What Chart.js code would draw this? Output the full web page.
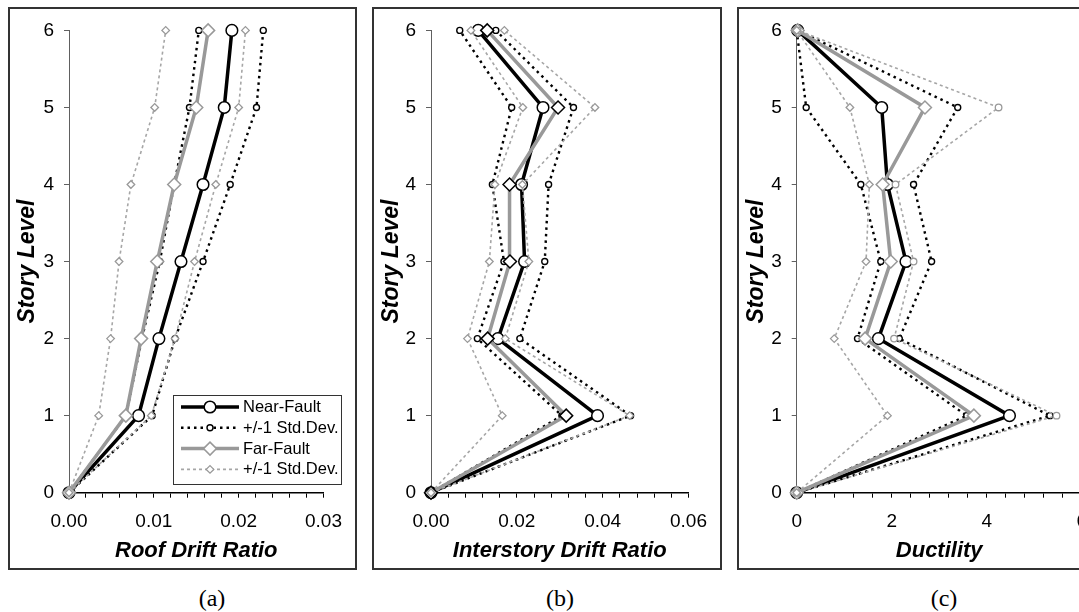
<!DOCTYPE html>
<html>
<head>
<meta charset="utf-8">
<script src="https://cdn.jsdelivr.net/npm/chart.js@4/dist/chart.umd.min.js"></script>
<style>
  body { margin: 0; width: 1079px; height: 612px; overflow: hidden; background: #fff; position: relative; }
  .frame { position: absolute; box-sizing: border-box; border: 2px solid #333; }
  canvas { position: absolute; }
  .cap { position: absolute; top: 584px; width: 60px; text-align: center; line-height: 28px;
         font-family: "Liberation Serif", "Times New Roman", serif; font-size: 24px; color: #000; }
</style>
</head>
<body>
<div class="frame" style="left:8px;top:7px;width:349px;height:563px"></div>
<div class="frame" style="left:372px;top:7px;width:350px;height:563px"></div>
<div class="frame" style="left:737px;top:7px;width:370px;height:563px"></div>

<canvas id="roofChart"></canvas>
<canvas id="idrChart"></canvas>
<canvas id="ductChart"></canvas>

<div class="cap" style="left:182px">(a)</div>
<div class="cap" style="left:530px">(b)</div>
<div class="cap" style="left:914px">(c)</div>

<script>
const storyLevels = [0, 1, 2, 3, 4, 5, 6];

// (a) roof drift ratio
const roofNearMean  = [0, 0.0082, 0.0106, 0.0132, 0.0158, 0.0183, 0.0192];
const roofNearPlus  = [0, 0.0098, 0.0125, 0.0158, 0.0190, 0.0221, 0.0229];
const roofNearMinus = [0, 0.0067, 0.0086, 0.0107, 0.0124, 0.0142, 0.0153];
const roofFarMean   = [0, 0.0067, 0.0085, 0.0104, 0.0124, 0.0150, 0.0164];
const roofFarPlus   = [0, 0.0097, 0.0125, 0.0148, 0.0173, 0.0200, 0.0208];
const roofFarMinus  = [0, 0.0035, 0.0049, 0.0059, 0.0073, 0.0101, 0.0114];
const roofTicks  = [0, 0.01, 0.02, 0.03];
const roofLabels = ['0.00', '0.01', '0.02', '0.03'];

// (b) interstory drift ratio
const idrNearMean  = [0, 0.0388, 0.0156, 0.0218, 0.0211, 0.0261, 0.0110];
const idrNearPlus  = [0, 0.0465, 0.0207, 0.0265, 0.0274, 0.0332, 0.0151];
const idrNearMinus = [0, 0.0305, 0.0108, 0.0170, 0.0143, 0.0188, 0.0067];
const idrFarMean   = [0, 0.0315, 0.0132, 0.0184, 0.0183, 0.0296, 0.0131];
const idrFarPlus   = [0, 0.0463, 0.0173, 0.0228, 0.0213, 0.0382, 0.0171];
const idrFarMinus  = [0, 0.0166, 0.0085, 0.0136, 0.0149, 0.0214, 0.0093];
const idrTicks  = [0, 0.02, 0.04, 0.06];
const idrLabels = ['0.00', '0.02', '0.04', '0.06'];

// (c) ductility
const ductNearMean  = [0, 4.48, 1.72, 2.30, 1.91, 1.79, 0.02];
const ductNearPlus  = [0, 5.33, 2.16, 2.84, 2.46, 3.39, 0.02];
const ductNearMinus = [0, 3.58, 1.28, 1.77, 1.35, 0.20, 0.00];
const ductFarMean   = [0, 3.73, 1.44, 1.98, 1.81, 2.70, 0.02];
const ductFarPlus   = [0, 5.47, 2.05, 2.46, 2.08, 4.25, 0.02];
const ductFarMinus  = [0, 1.91, 0.79, 1.46, 1.53, 1.12, 0.00];
const ductTicks  = [0, 2, 4, 6];
const ductLabels = ['0', '2', '4', '6'];

const legendLabels = ['Near-Fault', '+/-1 Std.Dev.', 'Far-Fault', '+/-1 Std.Dev.'];

const GRAY = '#999999';
const FONT = 'Liberation Sans';

// line / marker styles
const nearMeanStyle = { borderColor: '#000', borderWidth: 3.5, pointStyle: 'circle', pointRadius: 5.8,
  pointBorderWidth: 1.5, pointBorderColor: '#000', pointBackgroundColor: '#fff' };
const nearSdStyle = { borderColor: '#000', borderWidth: 2.4, borderDash: [2.5, 4], pointStyle: 'circle', pointRadius: 3,
  pointBorderWidth: 1.4, pointBorderColor: '#000', pointBackgroundColor: '#fff' };
const farMeanStyle = { borderColor: GRAY, borderWidth: 3.5, pointStyle: 'rectRot', pointRadius: 6.5,
  pointBorderWidth: 1.5, pointBorderColor: GRAY, pointBackgroundColor: '#fff' };
const farSdStyle = { borderColor: '#a6a6a6', borderWidth: 1.6, borderDash: [3, 3], pointStyle: 'rectRot', pointRadius: 3.8,
  pointBorderWidth: 1.3, pointBorderColor: GRAY, pointBackgroundColor: '#fff' };

function toPoints(values) {
  return values.map((v, i) => ({ x: v, y: storyLevels[i] }));
}

function makeSet(values, style, order, extra) {
  return Object.assign({ data: toPoints(values), showLine: true, clip: false, order: order,
    borderDash: [], fill: false, tension: 0 }, style, extra || {});
}

function drawMarker(ctx, style, x, y) {
  const r = style.pointRadius;
  ctx.save();
  ctx.setLineDash([]);
  ctx.lineWidth = style.pointBorderWidth;
  ctx.strokeStyle = style.pointBorderColor;
  ctx.fillStyle = style.pointBackgroundColor;
  ctx.beginPath();
  if (style.pointStyle === 'circle') {
    ctx.arc(x, y, r, 0, Math.PI * 2);
  } else {
    ctx.moveTo(x - r, y); ctx.lineTo(x, y - r); ctx.lineTo(x + r, y); ctx.lineTo(x, y + r); ctx.closePath();
  }
  ctx.fill();
  ctx.stroke();
  ctx.restore();
}

// legend of panel (a): line sample with a marker in its middle
const faultLegend = {
  id: 'faultLegend',
  afterDraw(chart) {
    const ctx = chart.ctx;
    const styles = [nearMeanStyle, nearSdStyle, farMeanStyle, farSdStyle];
    ctx.save();
    ctx.fillStyle = '#fff';
    ctx.fillRect(163, 386, 168, 89);
    ctx.strokeStyle = '#333';
    ctx.lineWidth = 1;
    ctx.strokeRect(163.5, 386.5, 168, 89);
    legendLabels.forEach((text, i) => {
      const s = styles[i];
      const y = 398 + i * 20.8;
      ctx.beginPath();
      ctx.strokeStyle = s.borderColor;
      ctx.lineWidth = s.borderWidth;
      ctx.setLineDash(s.borderDash || []);
      ctx.moveTo(171, y);
      ctx.lineTo(229, y);
      ctx.stroke();
      drawMarker(ctx, s, 200, y);
      ctx.setLineDash([]);
      ctx.fillStyle = '#000';
      ctx.font = '16.5px "' + FONT + '"';
      ctx.textBaseline = 'middle';
      ctx.textAlign = 'left';
      ctx.fillText(text, 233, y + 0.5);
    });
    ctx.restore();
  }
};

// box = canvas rectangle on the page, area = wanted plot area on the page
function buildPanel(id, box, area, sets, xMax, xStep, tickVals, tickTexts, xTitle, plugins) {
  const canvas = document.getElementById(id);
  canvas.width = box.w;
  canvas.height = box.h;
  canvas.style.left = box.x + 'px';
  canvas.style.top = box.y + 'px';
  canvas.style.width = box.w + 'px';
  canvas.style.height = box.h + 'px';

  const tickFont = { family: FONT, size: 19 };
  const titleFont = { family: FONT, size: 22, weight: 'bold', style: 'italic' };

  return new Chart(canvas.getContext('2d'), {
    type: 'scatter',
    data: { datasets: sets },
    plugins: plugins || [],
    options: {
      responsive: false,
      animation: false,
      events: [],
      layout: { padding: { left: 0, bottom: 0, top: area.top - box.y, right: box.x + box.w - area.right } },
      plugins: { legend: { display: false }, tooltip: { enabled: false } },
      scales: {
        x: {
          type: 'linear', min: 0, max: xMax,
          afterFit: s => { s.height = box.y + box.h - area.bottom; },
          ticks: {
            stepSize: xStep, autoSkip: false, maxRotation: 0, color: '#000', font: tickFont, padding: 13,
            callback: v => {
              const k = tickVals.findIndex(t => Math.abs(t - v) < xStep / 10);
              return k >= 0 ? tickTexts[k] : '';
            }
          },
          grid: { drawOnChartArea: false, drawTicks: true, tickLength: 5, color: '#000', lineWidth: 1 },
          border: { display: true, color: '#000', width: 1.5 },
          title: { display: true, text: xTitle, color: '#000', font: titleFont, padding: { top: 0, bottom: 4 } }
        },
        y: {
          type: 'linear', min: 0, max: 6,
          afterFit: s => { s.width = area.left - box.x; },
          ticks: { stepSize: 1, color: '#000', font: tickFont, padding: 10 },
          grid: { drawOnChartArea: false, drawTicks: true, tickLength: 5, color: '#606060', lineWidth: 1 },
          border: { display: true, color: '#606060', width: 1 },
          title: { display: true, text: 'Story Level', color: '#000',
            font: { family: FONT, size: 23, weight: 'bold', style: 'italic' }, padding: { top: 4, bottom: 0 } }
        }
      }
    }
  });
}

// (a)
buildPanel('roofChart', { x: 10, y: 9, w: 345, h: 559 }, { left: 69, right: 335.7, top: 23.3, bottom: 492.7 }, [
  makeSet(roofNearMean, nearMeanStyle, 6),
  makeSet(roofNearPlus, nearSdStyle, 5),
  makeSet(roofNearMinus, nearSdStyle, 4),
  makeSet(roofFarMean, farMeanStyle, 3),
  makeSet(roofFarPlus, farSdStyle, 2),
  makeSet(roofFarMinus, farSdStyle, 1)
], 0.03, 0.002, roofTicks, roofLabels, 'Roof Drift Ratio', [faultLegend]);

// (b) far-fault mean markers have black borders here
buildPanel('idrChart', { x: 374, y: 9, w: 346, h: 559 }, { left: 431, right: 699, top: 23.3, bottom: 492.7 }, [
  makeSet(idrNearMean, nearMeanStyle, 6),
  makeSet(idrNearPlus, nearSdStyle, 5),
  makeSet(idrNearMinus, nearSdStyle, 4),
  makeSet(idrFarMean, farMeanStyle, 3, { pointBorderColor: '#000' }),
  makeSet(idrFarPlus, farSdStyle, 2),
  makeSet(idrFarMinus, farSdStyle, 1)
], 0.06, 0.004, idrTicks, idrLabels, 'Interstory Drift Ratio');

// (c) far-fault +1 std.dev. drawn with gray circles
buildPanel('ductChart', { x: 739, y: 9, w: 361, h: 559 }, { left: 796.7, right: 1081.7, top: 23.3, bottom: 492.7 }, [
  makeSet(ductNearMean, nearMeanStyle, 6),
  makeSet(ductNearPlus, nearSdStyle, 5),
  makeSet(ductNearMinus, nearSdStyle, 4),
  makeSet(ductFarMean, farMeanStyle, 3),
  makeSet(ductFarPlus, farSdStyle, 2, { pointStyle: 'circle', pointRadius: 3.3 }),
  makeSet(ductFarMinus, farSdStyle, 1)
], 6, 0.4, ductTicks, ductLabels, 'Ductility');
</script>
</body>
</html>
